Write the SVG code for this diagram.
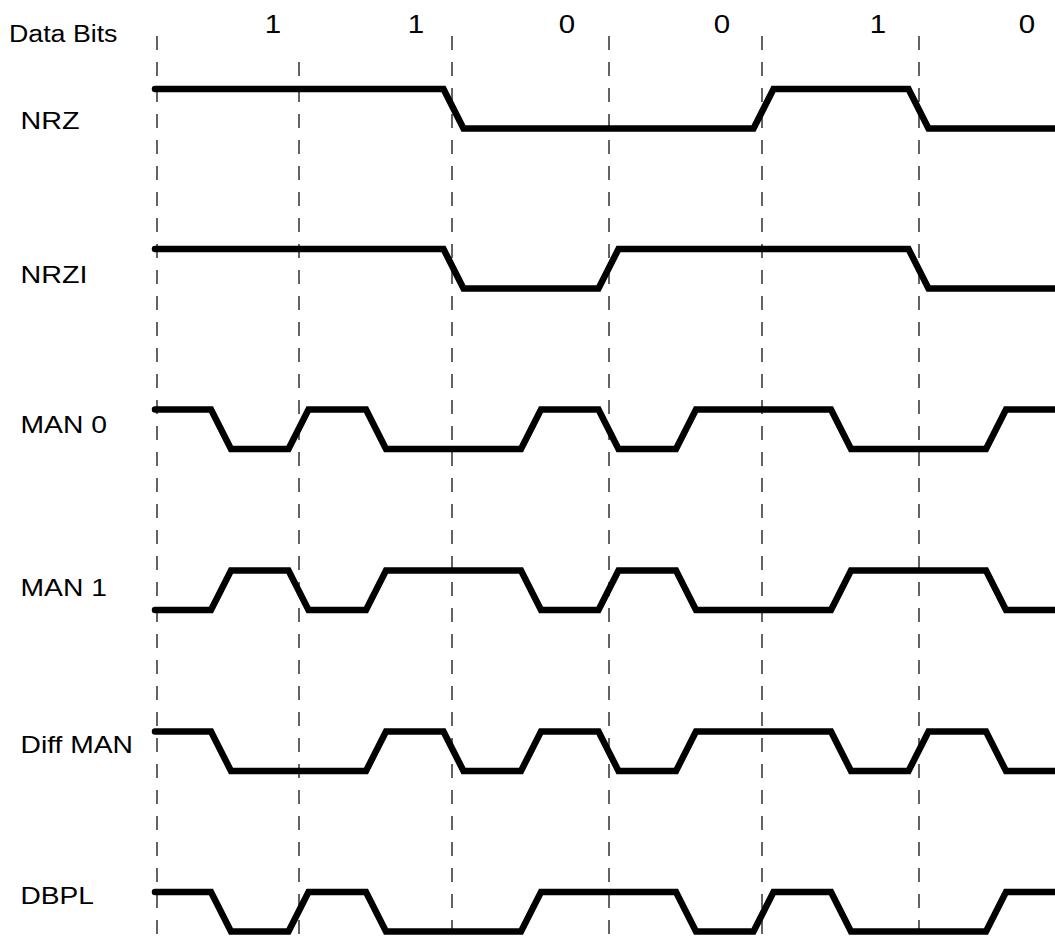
<svg xmlns="http://www.w3.org/2000/svg" width="1055" height="942" viewBox="0 0 1055 942">
<style>
  text { font-family: "Liberation Sans", Arial, sans-serif; fill: #000; }
  .lbl { font-size: 24px; }
  .bit { font-size: 25px; text-anchor: middle; }
  .wave { fill: none; stroke: #000; stroke-width: 6.5; stroke-linecap: round; stroke-linejoin: miter; }
  .grid { stroke: #222; stroke-width: 1.4; stroke-dasharray: 14 12; fill: none; }
</style>
<rect x="0" y="0" width="1055" height="942" fill="#fff"/>

<g id="connectors">
  <line class="grid" x1="157" y1="36" x2="157" y2="942"/>
  <line class="grid" x1="299" y1="62" x2="299" y2="942"/>
  <line class="grid" x1="452" y1="36" x2="452" y2="942"/>
  <line class="grid" x1="609" y1="36" x2="609" y2="942"/>
  <line class="grid" x1="762" y1="36" x2="762" y2="942"/>
  <line class="grid" x1="919" y1="36" x2="919" y2="942"/>
</g>

<g id="data-bits">
  <text class="lbl" x="9" y="42" style="font-size:23px" textLength="108.5" lengthAdjust="spacingAndGlyphs">Data Bits</text>
  <text class="bit" x="273" y="33" textLength="16.4" lengthAdjust="spacingAndGlyphs">1</text>
  <text class="bit" x="416" y="33" textLength="16.4" lengthAdjust="spacingAndGlyphs">1</text>
  <text class="bit" x="567" y="33" textLength="16.4" lengthAdjust="spacingAndGlyphs">0</text>
  <text class="bit" x="722" y="33" textLength="16.4" lengthAdjust="spacingAndGlyphs">0</text>
  <text class="bit" x="878" y="33" textLength="16.4" lengthAdjust="spacingAndGlyphs">1</text>
  <text class="bit" x="1027" y="33" textLength="16.4" lengthAdjust="spacingAndGlyphs">0</text>
</g>

<g id="nrz">
  <text class="lbl" x="20.5" y="128.5" textLength="59" lengthAdjust="spacingAndGlyphs">NRZ</text>
  <path class="wave" d="M155,89 H443.5 L463.5,128.5 H753.5 L773.5,89 H908.5 L928.5,128.5 H1062"/>
</g>

<g id="nrzi">
  <text class="lbl" x="20.5" y="283" textLength="67" lengthAdjust="spacingAndGlyphs">NRZI</text>
  <path class="wave" d="M155,249 H443.5 L463.5,288.5 H598.5 L618.5,249 H908.5 L928.5,288.5 H1062"/>
</g>

<g id="man0">
  <text class="lbl" x="20.5" y="433" textLength="86.5" lengthAdjust="spacingAndGlyphs">MAN 0</text>
  <path class="wave" d="M155,409.5 H211 L231,449 H288.5 L308.5,409.5 H366 L386,449 H521 L541,409.5 H598.5 L618.5,449 H676 L696,409.5 H831 L851,449 H986 L1006,409.5 H1062"/>
</g>

<g id="man1">
  <text class="lbl" x="20.5" y="596" textLength="86.5" lengthAdjust="spacingAndGlyphs">MAN 1</text>
  <path class="wave" d="M155,610 H211 L231,570.5 H288.5 L308.5,610 H366 L386,570.5 H521 L541,610 H598.5 L618.5,570.5 H676 L696,610 H831 L851,570.5 H986 L1006,610 H1062"/>
</g>

<g id="diff-man">
  <text class="lbl" x="20.5" y="753" textLength="112.5" lengthAdjust="spacingAndGlyphs">Diff MAN</text>
  <path class="wave" d="M155,731.5 H211 L231,771 H366 L386,731.5 H443.5 L463.5,771 H521 L541,731.5 H598.5 L618.5,771 H676 L696,731.5 H831 L851,771 H908.5 L928.5,731.5 H986 L1006,771 H1062"/>
</g>

<g id="dbpl">
  <text class="lbl" x="20.5" y="904" textLength="73.5" lengthAdjust="spacingAndGlyphs">DBPL</text>
  <path class="wave" d="M155,892 H211 L231,931.5 H288.5 L308.5,892 H366 L386,931.5 H521 L541,892 H676 L696,931.5 H753.5 L773.5,892 H831 L851,931.5 H986 L1006,892 H1062"/>
</g>
</svg>
